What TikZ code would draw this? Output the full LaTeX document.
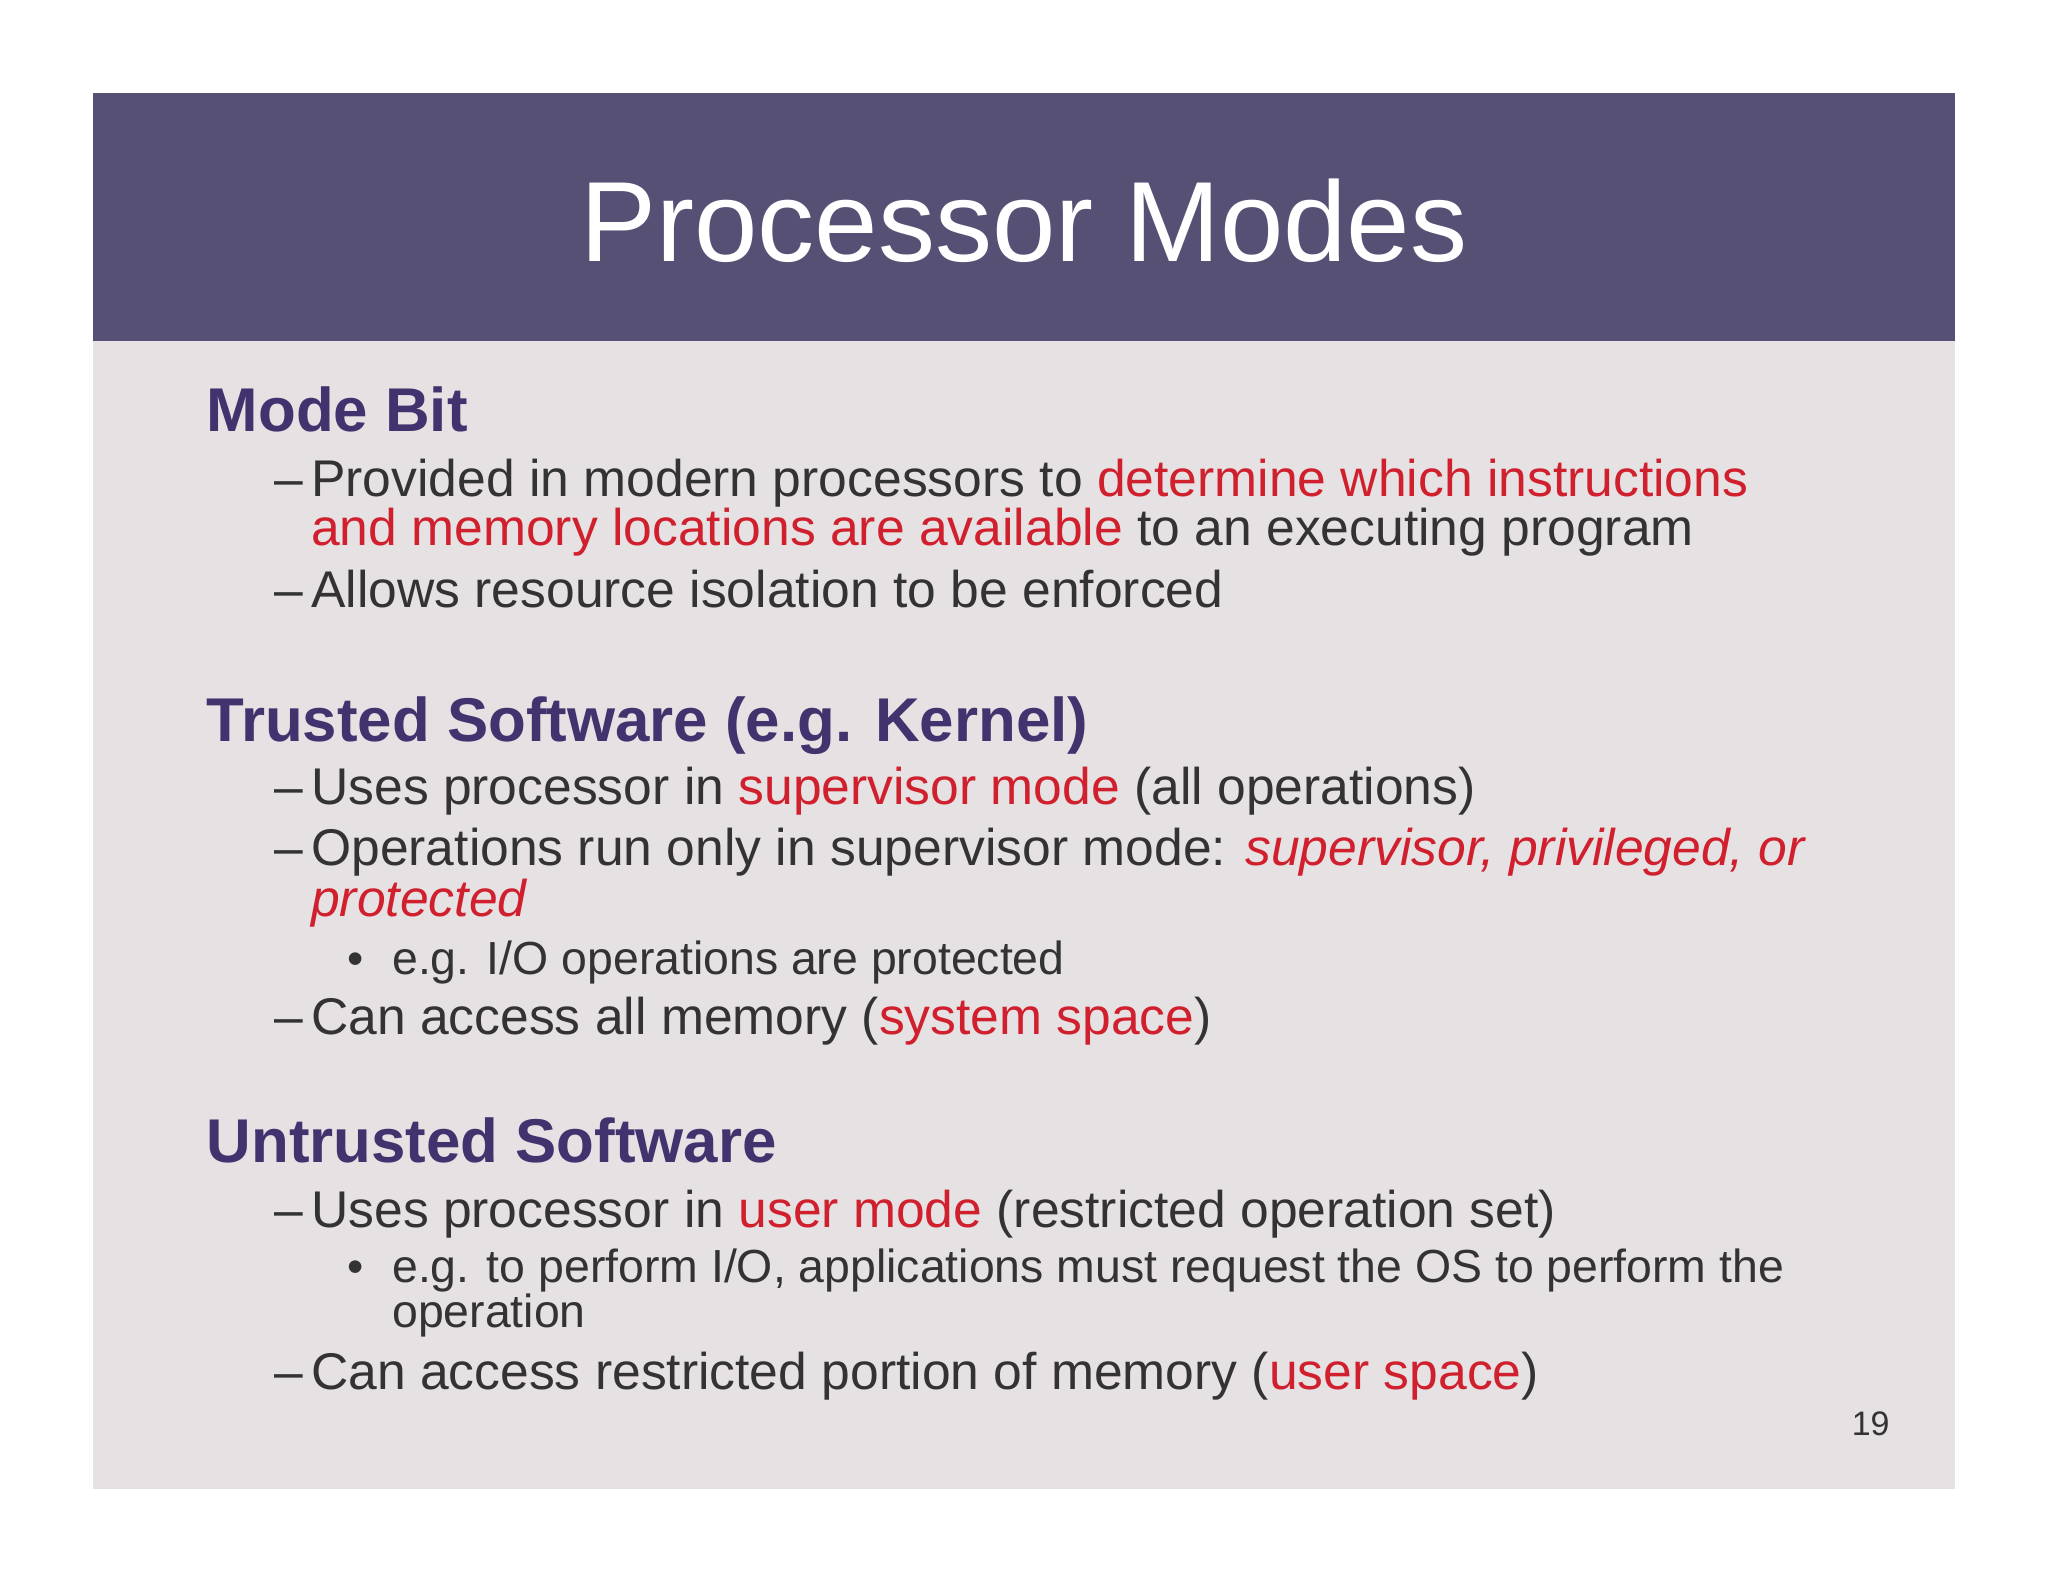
\documentclass[tikz,border=0pt]{standalone}
\usepackage{fontspec}
\setmainfont{Liberation Sans}
\definecolor{hdr}{HTML}{575075}
\definecolor{slide}{HTML}{E6E1E2}
\definecolor{head}{HTML}{40336E}
\definecolor{body}{HTML}{333333}
\definecolor{hl}{HTML}{D0202E}
\newcommand{\rd}[1]{\textcolor{hl}{#1}}
\begin{document}
\begin{tikzpicture}[x=0.653pt,y=-0.653pt,
  txt/.style={anchor=base west,inner sep=0pt,text=body},
  heading/.style={anchor=base west,inner sep=0pt,text=head,font=\fontsize{30.9}{36}\selectfont\bfseries},
  lvlone/.style={txt,font=\fontsize{25.8}{28}\selectfont},
  lvltwo/.style={txt,font=\fontsize{23.2}{24}\selectfont}]
\useasboundingbox (0,0) rectangle (1568,1211);
\fill[white] (0,0) rectangle (1568,1211);
\fill[slide] (71,71) rectangle (1497,1140);
\fill[hdr] (71,71) rectangle (1497,261);
\node[inner sep=0pt,text=white,anchor=base,font=\fontsize{57}{60}\selectfont] (title) at (784,200) {Processor Modes};

\node[heading] (h1) at (158,330) {Mode Bit};
\node[lvlone] (d1) at (210,380) {–};
\node[lvlone] (l1) at (238,380) {Provided in modern processors to \rd{determine which instructions}};
\node[lvlone] (l1b) at (238,418) {\rd{and memory locations are available} to an executing program};
\node[lvlone] (d2) at (210,465) {–};
\node[lvlone] (l2) at (238,465) {Allows resource isolation to be enforced};

\node[heading] (h2) at (158,568) {Trusted Software (e.g. Kernel)};
\node[lvlone] (d3) at (210,616) {–};
\node[lvlone] (l3) at (238,616) {Uses processor in \rd{supervisor mode} (all operations)};
\node[lvlone] (d4) at (210,663) {–};
\node[lvlone] (l4) at (238,663) {Operations run only in supervisor mode: \rd{\itshape supervisor, privileged, or}};
\node[lvlone] (l4b) at (238,702) {\rd{\itshape protected}};
\node[lvltwo] (b1) at (266,746) {•};
\node[lvltwo] (s1) at (300,746) {e.g. I/O operations are protected};
\node[lvlone] (d5) at (210,792) {–};
\node[lvlone] (l5) at (238,792) {Can access all memory (\rd{system space})};

\node[heading] (h3) at (158,890) {Untrusted Software};
\node[lvlone] (d6) at (210,940) {–};
\node[lvlone] (l6) at (238,940) {Uses processor in \rd{user mode} (restricted operation set)};
\node[lvltwo] (b2) at (266,982) {•};
\node[lvltwo] (s2) at (300,982) {e.g. to perform I/O, applications must request the OS to perform the};
\node[lvltwo] (s2b) at (300,1016) {operation};
\node[lvlone] (d7) at (210,1064) {–};
\node[lvlone] (l7) at (238,1064) {Can access restricted portion of memory (\rd{user space})};

\node[txt,anchor=base east,font=\fontsize{17}{17}\selectfont] (pg) at (1447,1099) {19};
\end{tikzpicture}
\end{document}
